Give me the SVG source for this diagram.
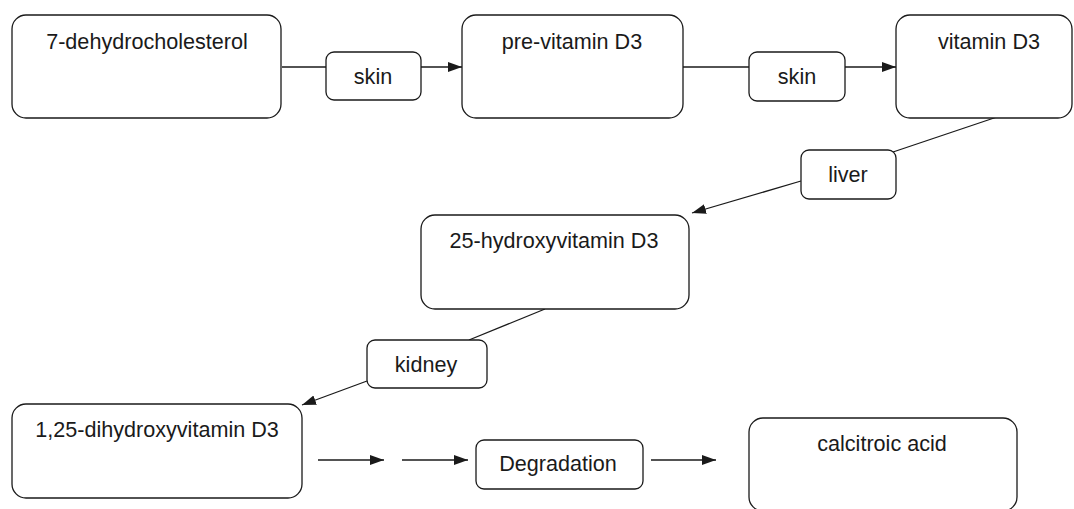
<svg xmlns="http://www.w3.org/2000/svg" width="1074" height="509" viewBox="0 0 1074 509">
<style>
.n{fill:#fff;stroke:#1a1a1a;stroke-width:1.3}
.t{font-family:"Liberation Sans",Arial,sans-serif;font-size:21.6px;fill:#1a1a1a;text-anchor:middle}
.c{fill:none;stroke:#1a1a1a;stroke-width:1.3}
</style>
<defs>
<marker id="ah" markerUnits="userSpaceOnUse" markerWidth="15" markerHeight="13" viewBox="0 0 15 13" refX="14" refY="6.5" orient="auto">
<path d="M0,1.5 L14,6.5 L0,11.5 Z" fill="#1a1a1a"/>
</marker>
</defs>
<rect width="1074" height="509" fill="#fff"/>
<g id="connectors">
<line class="c" x1="282" y1="67" x2="326" y2="67"/>
<line class="c" x1="421" y1="67" x2="462" y2="67" marker-end="url(#ah)"/>
<line class="c" x1="683" y1="67" x2="749" y2="67"/>
<line class="c" x1="845" y1="67" x2="896" y2="67" marker-end="url(#ah)"/>
<line class="c" x1="997" y1="117" x2="893" y2="152"/>
<line class="c" x1="801" y1="181" x2="692" y2="213" marker-end="url(#ah)"/>
<line class="c" x1="545" y1="309" x2="469" y2="340"/>
<line class="c" x1="367" y1="381" x2="302" y2="405" marker-end="url(#ah)"/>
<line class="c" x1="318" y1="460" x2="384" y2="460" marker-end="url(#ah)"/>
<line class="c" x1="402" y1="460" x2="468" y2="460" marker-end="url(#ah)"/>
<line class="c" x1="651" y1="460" x2="716" y2="460" marker-end="url(#ah)"/>
</g>
<g id="n1"><rect class="n" x="12" y="15" width="269" height="103" rx="14"/><text class="t" x="147" y="49">7-dehydrocholesterol</text></g>
<g id="l1"><rect class="n" x="326" y="52" width="95" height="48" rx="8"/><text class="t" x="373" y="84">skin</text></g>
<g id="n2"><rect class="n" x="462" y="15" width="221" height="103" rx="14"/><text class="t" x="572" y="49">pre-vitamin D3</text></g>
<g id="l2"><rect class="n" x="749" y="52" width="96" height="49" rx="8"/><text class="t" x="797" y="84">skin</text></g>
<g id="n3"><rect class="n" x="896" y="15" width="176" height="103" rx="14"/><text class="t" x="989" y="49">vitamin D3</text></g>
<g id="l3"><rect class="n" x="801" y="150" width="95" height="49" rx="8"/><text class="t" x="848" y="182">liver</text></g>
<g id="n4"><rect class="n" x="421" y="215" width="268" height="94" rx="14"/><text class="t" x="554" y="248">25-hydroxyvitamin D3</text></g>
<g id="l4"><rect class="n" x="367" y="340" width="120" height="48" rx="8"/><text class="t" x="426" y="372">kidney</text></g>
<g id="n5"><rect class="n" x="12" y="404" width="290" height="94" rx="14"/><text class="t" x="157" y="437">1,25-dihydroxyvitamin D3</text></g>
<g id="l5"><rect class="n" x="476" y="440" width="167" height="49" rx="8"/><text class="t" x="558" y="471">Degradation</text></g>
<g id="n6"><rect class="n" x="749" y="418" width="268" height="93" rx="14"/><text class="t" x="882" y="451">calcitroic acid</text></g>
</svg>
